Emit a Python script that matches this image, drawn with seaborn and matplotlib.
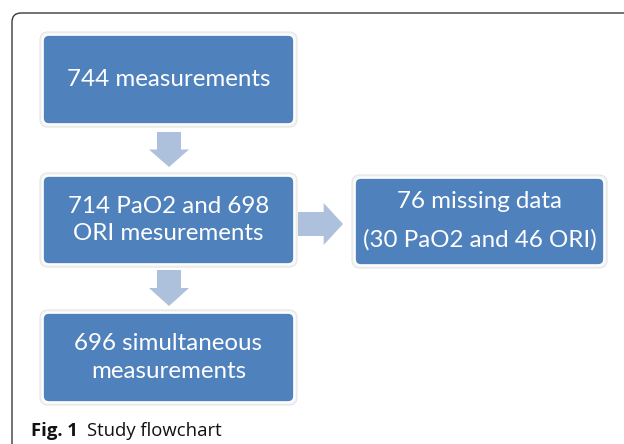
import numpy as np
import pandas as pd
import matplotlib.pyplot as plt
import seaborn as sns
from matplotlib.patches import FancyBboxPatch, Polygon

# flowchart content
steps = ["744 measurements", "714 PaO2 and 698\nORI mesurements", "696 simultaneous\nmeasurements"]
excluded = ["76 missing data", "(30 PaO2 and 46 ORI)"]
caption_bold = "Fig. 1"
caption_text = "Study flowchart"

# layout in pixel units (x0, y0, x1, y1), y going down
step_boxes = [(43, 35, 294, 124), (43, 176, 294, 264), (43, 313, 294, 402)]
excluded_box = (355, 178, 604, 265)
down_arrows = [(132, 167), (270, 306)]
right_arrow = (298, 343, 224)

BOX_BLUE = "#4F81BD"
ARROW_BLUE = "#AEC1DC"

sns.set_theme(style="white")
plt.rcParams["font.family"] = ["Lato", "DejaVu Sans"]

fig = plt.figure(figsize=(6.24, 4.44), dpi=100)
ax = fig.add_axes([0, 0, 1, 1])
ax.set_xlim(0, 624)
ax.set_ylim(444, 0)
ax.axis("off")

# outer figure frame, runs off the right and bottom edges
frame = FancyBboxPatch((12, 13), 700, 500, boxstyle="round,pad=0,rounding_size=9",
                       facecolor="white", edgecolor="#3a3a3a", linewidth=1.0, zorder=0)
ax.add_patch(frame)


def draw_box(b):
    x0, y0, x1, y1 = b
    glow = FancyBboxPatch((x0 - 3, y0 - 3), x1 - x0 + 6, y1 - y0 + 6,
                          boxstyle="round,pad=0,rounding_size=8",
                          facecolor="#f6f6f6", edgecolor="#e4e4e4", linewidth=0.8, zorder=1)
    ax.add_patch(glow)
    box = FancyBboxPatch((x0, y0), x1 - x0, y1 - y0, boxstyle="round,pad=0,rounding_size=6",
                         facecolor=BOX_BLUE, edgecolor="white", linewidth=1.2, zorder=2)
    ax.add_patch(box)


FS = 17.4
for b, label in zip(step_boxes, steps):
    draw_box(b)
    ax.text((b[0] + b[2]) / 2, (b[1] + b[3]) / 2, label, color="white", fontsize=FS,
            ha="center", va="center", linespacing=1.4, zorder=3)

draw_box(excluded_box)
cx = (excluded_box[0] + excluded_box[2]) / 2
ax.text(cx, 201, excluded[0], color="white", fontsize=FS, ha="center", va="center", zorder=3)
ax.text(cx, 240, excluded[1], color="white", fontsize=FS, ha="center", va="center", zorder=3)

# block arrows
xc = 169
for y0, y1 in down_arrows:
    ym = y0 + (y1 - y0) * 0.5
    pts = [(xc - 12, y0), (xc + 12, y0), (xc + 12, ym), (xc + 20, ym),
           (xc, y1), (xc - 20, ym), (xc - 12, ym)]
    ax.add_patch(Polygon(pts, closed=True, facecolor=ARROW_BLUE, edgecolor="none", zorder=2))

x0, x1, yc = right_arrow
xm = x0 + (x1 - x0) * 0.57
pts = [(x0, yc - 12), (xm, yc - 12), (xm, yc - 21), (x1, yc),
       (xm, yc + 21), (xm, yc + 12), (x0, yc + 12)]
ax.add_patch(Polygon(pts, closed=True, facecolor=ARROW_BLUE, edgecolor="none", zorder=2))

# caption
t = ax.text(31, 436, caption_bold, fontsize=13.3, fontweight="bold", color="#111111",
            ha="left", va="baseline", family=["Open Sans", "DejaVu Sans"])
fig.canvas.draw()
bb = t.get_window_extent().transformed(ax.transData.inverted())
ax.text(bb.x1 + 9, 436, caption_text, fontsize=13.3, color="#111111",
        ha="left", va="baseline", family=["Open Sans", "DejaVu Sans"])

fig.savefig("out.png", dpi=100)
